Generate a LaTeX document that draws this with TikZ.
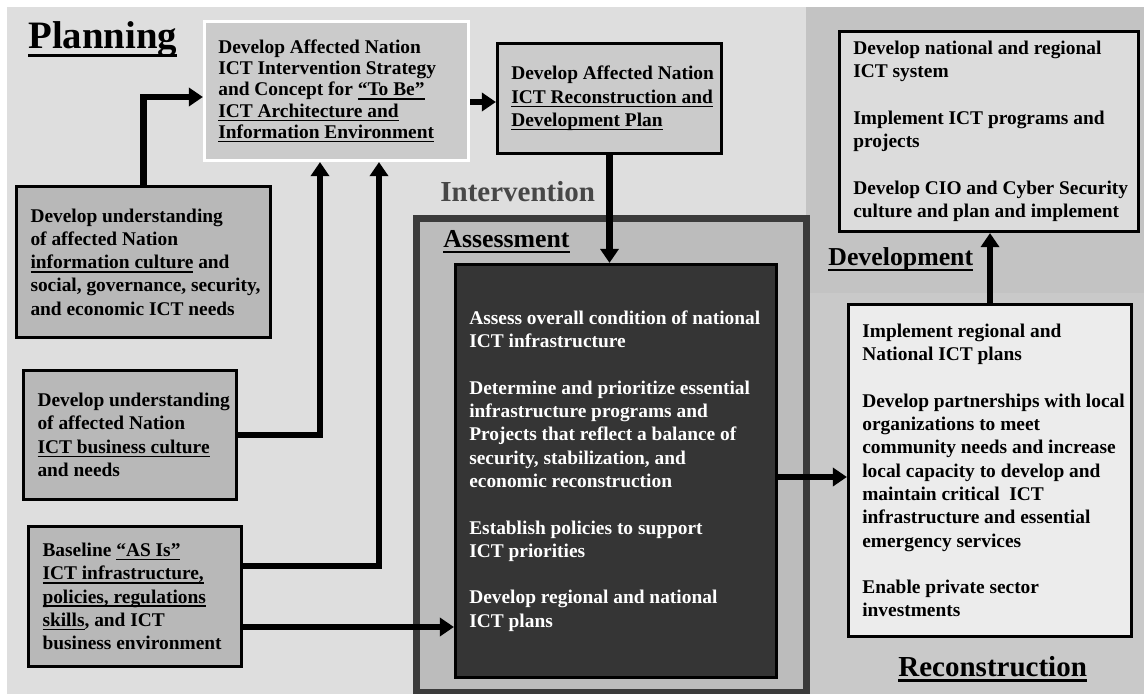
\documentclass[tikz,border=0pt]{standalone}
\usepackage{fontspec}
\setmainfont{Liberation Serif}
\usetikzlibrary{arrows.meta}
\definecolor{planbg}{HTML}{DEDEDE}
\definecolor{devbg}{HTML}{C3C3C3}
\definecolor{recbg}{HTML}{C9C9C9}
\definecolor{framegray}{HTML}{3B3B3B}
\definecolor{framefill}{HTML}{BCBCBC}
\definecolor{midfill}{HTML}{B8B8B8}
\definecolor{stepfill}{HTML}{CBCBCB}
\definecolor{darkfill}{HTML}{353535}
\definecolor{devfill}{HTML}{DCDCDC}
\definecolor{recfill}{HTML}{ECECEC}
\definecolor{phasegray}{HTML}{474747}
\newcommand{\uln}[1]{\setbox0=\hbox{#1}\rlap{\rule[-0.2em]{\wd0}{0.08em}}\box0\relax}
\newcommand{\ictbox}[6][]{%
  \node[ictbox,minimum width=#4,minimum height=#5,#1] at (#2) (#3) {};
  \node[ictext,#1,draw=none,fill=none] at ([xshift=7.5pt]#3.west) (#3-txt) {#6}}
\tikzset{
  ictbox/.style={draw=black,line width=1.6pt,fill=midfill},
  ictext/.style={align=left,inner sep=0pt,anchor=west,
    font=\bfseries\fontsize{9.7}{11.65}\selectfont},
  phase/.style={anchor=base west,inner sep=0pt,font=\bfseries},
  flow/.style={line width=3.25pt,-{Triangle[length=7pt,width=9pt]}}
}

\begin{document}
\begin{tikzpicture}[x=0.5pt,y=-0.5pt]
  \useasboundingbox (0,0) rectangle (1144,694);
  \fill[white] (0,0) rectangle (1144,694);
  \fill[planbg] (7,7) rectangle (806,694);
  \fill[devbg] (806,7) rectangle (1144,293);
  \fill[recbg] (806,293) rectangle (1144,694);
  \draw[framegray,fill=framefill,line width=3.5pt] (416,219) rectangle (806,692);

  \node[phase,font=\bfseries\fontsize{19.4}{23}\selectfont] at (28,49) (planning)
    {\uln{Planning}};
  \node[phase,text=phasegray,font=\bfseries\fontsize{14.5}{17}\selectfont] at (440,202) (intervention)
    {Intervention};
  \node[phase,font=\bfseries\fontsize{12.9}{15}\selectfont] at (443,248) (assessment)
    {\uln{Assessment}};
  \node[phase,font=\bfseries\fontsize{12.9}{15}\selectfont] at (828,266) (development)
    {\uln{Development}};
  \node[phase,font=\bfseries\fontsize{14.5}{17}\selectfont] at (898,676) (reconstruction)
    {\uln{Reconstruction}};

  \ictbox[draw=white,fill=stepfill,font=\bfseries\fontsize{9.7}{10.65}\selectfont]{336.5,91}{strat}{132pt}{69.5pt}
    {Develop Affected Nation\\
     ICT Intervention Strategy\\
     and Concept for \uln{“To Be”}\\
     \uln{ICT Architecture and}\\
     \uln{Information Environment}};
  \ictbox[fill=stepfill]{609.5,98.5}{plan}{112pt}{55pt}
    {Develop Affected Nation\\
     \uln{ICT Reconstruction and}\\
     \uln{Development Plan}};
  \ictbox{143.5,262}{infocult}{126.8pt}{75.3pt}
    {Develop understanding\\
     of affected Nation\\
     \uln{information culture} and\\
     social, governance, security,\\
     and economic ICT needs};
  \ictbox{130,435}{buscult}{106.3pt}{64.3pt}
    {Develop understanding\\
     of affected Nation\\
     \uln{ICT business culture}\\
     and needs};
  \ictbox{135,596.5}{asis}{106.3pt}{69.8pt}
    {Baseline \uln{“AS Is”}\\
     \uln{ICT infrastructure,}\\
     \uln{policies, regulations}\\
     \uln{skills}, and ICT\\
     business environment};
  \ictbox[fill=darkfill,text=white]{616,471}{assesstask}{160.5pt}{206.5pt}
    {Assess overall condition of national\\
     ICT infrastructure\\[11.65pt]
     Determine and prioritize essential\\
     infrastructure programs and\\
     Projects that reflect a balance of\\
     security, stabilization, and\\
     economic reconstruction\\[11.65pt]
     Establish policies to support\\
     ICT priorities\\[11.65pt]
     Develop regional and national\\
     ICT plans};
  \ictbox[fill=recfill]{990,470.5}{recon}{141.5pt}{166pt}
    {Implement regional and\\
     National ICT plans\\[11.65pt]
     Develop partnerships with local\\
     organizations to meet\\
     community needs and increase\\
     local capacity to develop and\\
     maintain critical\ \ ICT\\
     infrastructure and essential\\
     emergency services\\[11.65pt]
     Enable private sector\\
     investments};
  \ictbox[fill=devfill]{989,131.5}{devtask}{149.5pt}{100pt}
    {Develop national and regional\\
     ICT system\\[11.65pt]
     Implement ICT programs and\\
     projects\\[11.65pt]
     Develop CIO and Cyber Security\\
     culture and plan and implement};

  \draw[flow] (infocult.north) |- ([yshift=-3pt]strat.west);
  \draw[flow] ([yshift=-5.5pt]strat.east) -- ([yshift=-5.5pt]strat.east -| plan.west);
  \draw[flow] (plan.south) -- (plan.south |- assesstask.north);
  \draw[flow] (buscult.east) -| ([xshift=-8.25pt]strat.south);
  \draw[flow] ([yshift=15.25pt]asis.east) -| ([xshift=21.25pt]strat.south);
  \draw[flow] ([yshift=-15.25pt]asis.east) -- ([yshift=-15.25pt]asis.east -| assesstask.west);
  \draw[flow] ([yshift=-3pt]assesstask.east) -- ([yshift=-3pt]assesstask.east -| recon.west);
  \draw[flow] (recon.north) -- (recon.north |- devtask.south);
\end{tikzpicture}
\end{document}
